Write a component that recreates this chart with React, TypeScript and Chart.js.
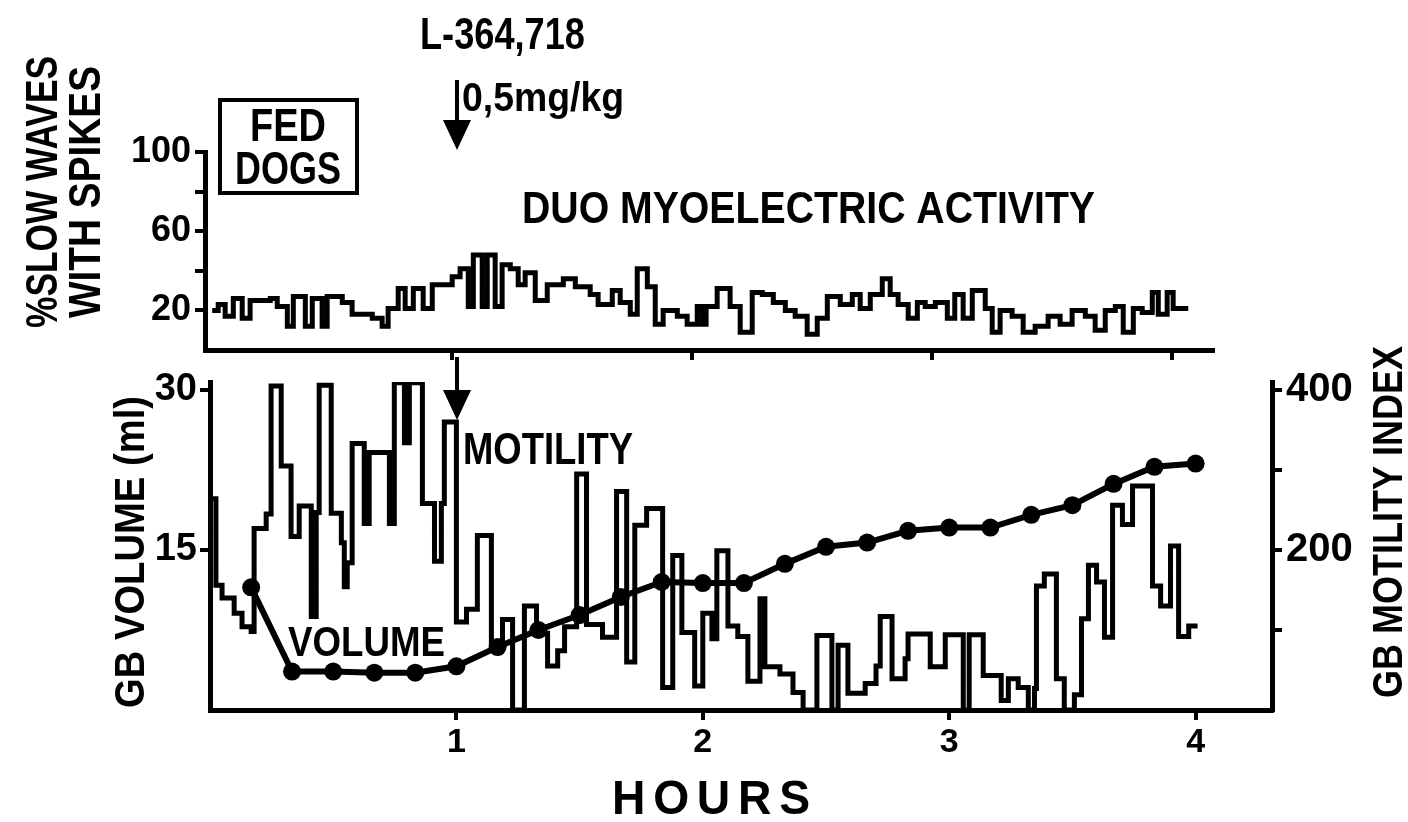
import React, { useEffect, useRef } from 'react';
import { Chart, registerables } from 'chart.js';

Chart.register(...registerables);

const W = 1408;
const H = 822;
const FONT = "'Liberation Sans', Arial, sans-serif";

// ---------- DATA ----------
// Top panel: duodenal myoelectric activity (% slow waves with spikes), step trace
const slowWaveTimes = [
  0, 0.025, 0.054, 0.088, 0.125, 0.158, 0.242, 0.271, 0.313, 0.338, 0.388, 0.417, 0.458, 0.479,
  0.542, 0.583, 0.667, 0.708, 0.733, 0.775, 0.804, 0.838, 0.879, 0.917, 1.0, 1.033, 1.067, 1.088,
  1.125, 1.146, 1.179, 1.208, 1.242, 1.275, 1.304, 1.346, 1.396, 1.463, 1.513, 1.575, 1.608, 1.667,
  1.7, 1.742, 1.771, 1.813, 1.846, 1.879, 1.938, 1.979, 2.021, 2.042, 2.058, 2.104, 2.158, 2.2,
  2.25, 2.292, 2.338, 2.388, 2.429, 2.479, 2.521, 2.563, 2.617, 2.667, 2.7, 2.742, 2.792, 2.825,
  2.858, 2.9, 2.938, 2.971, 3.013, 3.063, 3.094, 3.129, 3.167, 3.221, 3.25, 3.283, 3.333, 3.379,
  3.429, 3.483, 3.533, 3.583, 3.638, 3.679, 3.721, 3.763, 3.796, 3.838, 3.875, 3.917, 3.942, 3.979,
  4.004, 4.067,
];
const slowWaveValues = [
  20, 23, 17, 26, 16, 25, 26, 22, 12, 27, 12, 26, 12, 27,
  24, 18, 16, 12, 21, 31, 21, 31, 21, 33, 37, 41, 22, 48,
  22, 48, 22, 43, 41, 33, 39, 25, 33, 36, 32, 28, 23, 30,
  24, 18, 41, 32, 13, 20, 17, 13, 22, 13, 22, 31, 22, 9,
  29, 28, 24, 20, 17, 8, 16, 27, 23, 28, 21, 28, 36, 28,
  23, 16, 24, 22, 24, 16, 28, 16, 30, 21, 9, 20, 17, 9,
  12, 17, 13, 20, 17, 10, 20, 22, 9, 21, 19, 29, 18, 29,
  21, 21,
];

// Bottom panel: gallbladder motility index (right axis), step trace
const motilityTimes = [
  0, 0.002, 0.024, 0.049, 0.098, 0.13, 0.167, 0.179, 0.228, 0.248, 0.289, 0.329, 0.362, 0.411,
  0.431, 0.443, 0.492, 0.533, 0.545, 0.557, 0.577, 0.626, 0.646, 0.728, 0.748, 0.789, 0.809, 0.862,
  0.911, 0.939, 0.951, 1.0, 1.041, 1.085, 1.142, 1.187, 1.228, 1.276, 1.325, 1.37, 1.411, 1.439,
  1.488, 1.528, 1.593, 1.65, 1.691, 1.724, 1.772, 1.837, 1.878, 1.915, 1.967, 2.0, 2.037, 2.057,
  2.102, 2.142, 2.183, 2.232, 2.252, 2.313, 2.366, 2.407, 2.463, 2.524, 2.549, 2.589, 2.659, 2.703,
  2.72, 2.768, 2.821, 2.833, 2.923, 2.984, 3.057, 3.081, 3.138, 3.211, 3.24, 3.28, 3.321, 3.346,
  3.354, 3.386, 3.435, 3.467, 3.508, 3.537, 3.565, 3.598, 3.63, 3.663, 3.703, 3.744, 3.825, 3.858,
  3.898, 3.931, 3.972, 4.008,
];
const motilityValues = [
  400, 264, 156, 140, 121, 104, 98, 227, 245, 405, 305, 217, 255, 117,
  247, 406, 246, 209, 154, 184, 333, 233, 322, 233, 409, 334, 409, 258,
  186, 258, 360, 110, 126, 218, 84, 113, 0, 130, 96, 55, 74, 104,
  295, 107, 91, 273, 60, 231, 252, 28, 193, 97, 30, 121, 89, 199,
  105, 92, 36, 139, 54, 45, 22, 0, 93, 0, 81, 21, 33, 55,
  117, 39, 64, 95, 54, 94, 0, 94, 43, 12, 39, 28, 0, 27,
  155, 170, 39, 0, 19, 114, 181, 160, 91, 256, 232, 280, 155, 130,
  205, 92, 105, 105,
];

// Bottom panel: gallbladder volume (ml, left axis), every 10 minutes
const volumeTimes = [
  0.167, 0.333, 0.5, 0.667, 0.833, 1.0, 1.167, 1.333, 1.5, 1.667, 1.833, 2.0,
  2.167, 2.333, 2.5, 2.667, 2.833, 3.0, 3.167, 3.333, 3.5, 3.667, 3.833, 4.0,
];
const volumeValues = [
  11.5, 3.6, 3.6, 3.5, 3.5, 4.1, 5.9, 7.5, 8.9, 10.6, 12.0, 11.9,
  11.9, 13.7, 15.3, 15.7, 16.8, 17.1, 17.1, 18.3, 19.2, 21.2, 22.8, 23.1,
];

// Tick values / labels
const hourTicks = [1, 2, 3, 4];
const slowWaveTicks = [20, 40, 60, 80, 100];
const slowWaveLabelled = [20, 60, 100];
const volumeTicks = [15, 30];
const motilityTicks = [100, 200, 300, 400];
const motilityLabelled = [200, 400];

// Text
const DRUG = 'L-364,718';
const DOSE = '0,5mg/kg';
const BOX1 = 'FED';
const BOX2 = 'DOGS';
const TOP_TITLE = 'DUO MYOELECTRIC ACTIVITY';
const MOTILITY_LABEL = 'MOTILITY';
const VOLUME_LABEL = 'VOLUME';
const X_TITLE = 'HOURS';
const TOP_Y1 = '%SLOW WAVES';
const TOP_Y2 = 'WITH SPIKES';
const LEFT_Y = 'GB VOLUME (ml)';
const RIGHT_Y = 'GB MOTILITY INDEX';

const pts = (xs: number[], ys: number[]) => xs.map((x, i) => ({ x, y: ys[i] }));

function fitText(
  ctx: CanvasRenderingContext2D,
  text: string,
  x: number,
  y: number,
  size: number,
  width: number,
  align: CanvasTextAlign,
  rotate = 0,
  spacing = 0
) {
  ctx.save();
  ctx.font = `bold ${size}px ${FONT}`;
  (ctx as any).letterSpacing = `${spacing}px`;
  const w = ctx.measureText(text).width - spacing;
  ctx.translate(x, y);
  if (rotate) ctx.rotate(rotate);
  ctx.scale(width / w, 1);
  ctx.textAlign = align;
  ctx.textBaseline = 'middle';
  ctx.fillStyle = '#000';
  ctx.fillText(text, 0, 0);
  ctx.restore();
}

function arrow(ctx: CanvasRenderingContext2D, x: number, y0: number, y1: number, headTop: number) {
  ctx.save();
  ctx.strokeStyle = '#000';
  ctx.fillStyle = '#000';
  ctx.lineWidth = 4;
  ctx.beginPath();
  ctx.moveTo(x, y0);
  ctx.lineTo(x, headTop + 2);
  ctx.stroke();
  ctx.beginPath();
  ctx.moveTo(x - 14, headTop);
  ctx.lineTo(x + 14, headTop);
  ctx.lineTo(x, y1);
  ctx.closePath();
  ctx.fill();
  ctx.restore();
}

const annotations = {
  id: 'annotations',
  afterDraw(chart: any) {
    const ctx: CanvasRenderingContext2D = chart.ctx;
    ctx.save();
    fitText(ctx, DRUG, 420, 37, 44, 165, 'left');
    arrow(ctx, 457, 80, 150, 120);
    fitText(ctx, DOSE, 462, 100, 40, 162, 'left');
    ctx.lineWidth = 4;
    ctx.strokeStyle = '#000';
    ctx.strokeRect(220, 100, 137, 93);
    fitText(ctx, BOX1, 288, 128, 46, 76, 'center');
    fitText(ctx, BOX2, 288, 171, 46, 106, 'center');
    fitText(ctx, TOP_TITLE, 522, 211, 44, 573, 'left');
    arrow(ctx, 457, 357, 420, 390);
    fitText(ctx, MOTILITY_LABEL, 463, 452, 44, 170, 'left');
    fitText(ctx, VOLUME_LABEL, 288, 644, 43, 157, 'left');
    fitText(ctx, X_TITLE, 612, 801, 48, 198, 'left', 0, 8);
    fitText(ctx, TOP_Y1, 45, 192, 44, 272, 'center', -Math.PI / 2);
    fitText(ctx, TOP_Y2, 88, 192, 44, 252, 'center', -Math.PI / 2);
    fitText(ctx, LEFT_Y, 132, 552, 42, 312, 'center', -Math.PI / 2);
    fitText(ctx, RIGHT_Y, 1390, 522, 42, 352, 'center', -Math.PI / 2);
    ctx.restore();
  },
};

const axisGrid = { drawOnChartArea: false, drawTicks: true, tickLength: 10, lineWidth: 4, color: '#000' };
const axisBorder = { display: true, width: 5, color: '#000' };

export default function App() {
  const topRef = useRef<HTMLCanvasElement>(null);
  const botRef = useRef<HTMLCanvasElement>(null);

  useEffect(() => {
    const bottom = new Chart(botRef.current as HTMLCanvasElement, {
      type: 'line',
      data: {
        datasets: [
          {
            label: 'Motility',
            data: pts(motilityTimes, motilityValues),
            yAxisID: 'yR',
            stepped: true,
            borderColor: '#000',
            borderWidth: 5,
            pointRadius: 0,
            fill: false,
          },
          {
            label: 'Volume',
            data: pts(volumeTimes, volumeValues),
            yAxisID: 'yL',
            borderColor: '#000',
            borderWidth: 6,
            pointRadius: 9,
            pointBackgroundColor: '#000',
            pointBorderWidth: 0,
            tension: 0,
            fill: false,
          },
        ],
      },
      options: {
        animation: false,
        responsive: false,
        layout: { padding: { left: 0, right: 0, top: 382, bottom: 0 } },
        plugins: { legend: { display: false }, tooltip: { enabled: false } },
        scales: {
          x: {
            type: 'linear',
            min: 0,
            max: 4.31,
            afterBuildTicks: (s: any) => {
              s.ticks = hourTicks.map((v) => ({ value: v }));
            },
            afterFit: (s: any) => {
              s.height = H - 710;
            },
            ticks: {
              color: '#000',
              padding: 2,
              font: { family: FONT, size: 34, weight: 'bold' },
              callback: (v: any) => String(v),
            },
            grid: axisGrid,
            border: axisBorder,
          },
          yL: {
            type: 'linear',
            position: 'left',
            min: 0,
            max: 30.75,
            afterBuildTicks: (s: any) => {
              s.ticks = volumeTicks.map((v) => ({ value: v }));
            },
            afterFit: (s: any) => {
              s.width = 210;
            },
            ticks: {
              color: '#000',
              padding: 3,
              font: { family: FONT, size: 38, weight: 'bold' },
              callback: (v: any) => String(v),
            },
            grid: axisGrid,
            border: axisBorder,
          },
          yR: {
            type: 'linear',
            position: 'right',
            min: 0,
            max: 410,
            afterBuildTicks: (s: any) => {
              s.ticks = motilityTicks.map((v) => ({ value: v }));
            },
            afterFit: (s: any) => {
              s.width = W - 1272;
            },
            ticks: {
              color: '#000',
              padding: 4,
              font: { family: FONT, size: 40, weight: 'bold' },
              callback: (v: any) => (motilityLabelled.includes(v) ? String(v) : ''),
            },
            grid: axisGrid,
            border: axisBorder,
          },
        },
      },
    } as any);

    const top = new Chart(topRef.current as HTMLCanvasElement, {
      type: 'line',
      data: {
        datasets: [
          {
            label: 'Slow waves with spikes',
            data: pts(slowWaveTimes, slowWaveValues),
            stepped: true,
            borderColor: '#000',
            borderWidth: 5,
            pointRadius: 0,
            fill: false,
          },
        ],
      },
      options: {
        animation: false,
        responsive: false,
        layout: { padding: { left: 0, right: W - 1213, top: 152, bottom: 0 } },
        plugins: { legend: { display: false }, tooltip: { enabled: false } },
        scales: {
          x: {
            type: 'linear',
            min: -0.03,
            max: 4.17,
            afterBuildTicks: (s: any) => {
              s.ticks = hourTicks.map((v) => ({ value: v }));
            },
            afterFit: (s: any) => {
              s.height = H - 350;
            },
            ticks: { callback: () => '' },
            grid: axisGrid,
            border: axisBorder,
          },
          y: {
            type: 'linear',
            min: 0,
            max: 100,
            afterBuildTicks: (s: any) => {
              s.ticks = slowWaveTicks.map((v) => ({ value: v }));
            },
            afterFit: (s: any) => {
              s.width = 205;
            },
            ticks: {
              color: '#000',
              padding: 4,
              font: { family: FONT, size: 36, weight: 'bold' },
              callback: (v: any) => (slowWaveLabelled.includes(v) ? String(v) : ''),
            },
            grid: axisGrid,
            border: axisBorder,
          },
        },
      },
      plugins: [annotations],
    } as any);

    return () => {
      bottom.destroy();
      top.destroy();
    };
  }, []);

  return (
    <div style={{ position: 'fixed', left: 0, top: 0, width: W, height: H, background: '#fff' }}>
      <canvas ref={botRef} width={W} height={H} style={{ position: 'absolute', left: 0, top: 0 }} />
      <canvas ref={topRef} width={W} height={H} style={{ position: 'absolute', left: 0, top: 0 }} />
    </div>
  );
}
